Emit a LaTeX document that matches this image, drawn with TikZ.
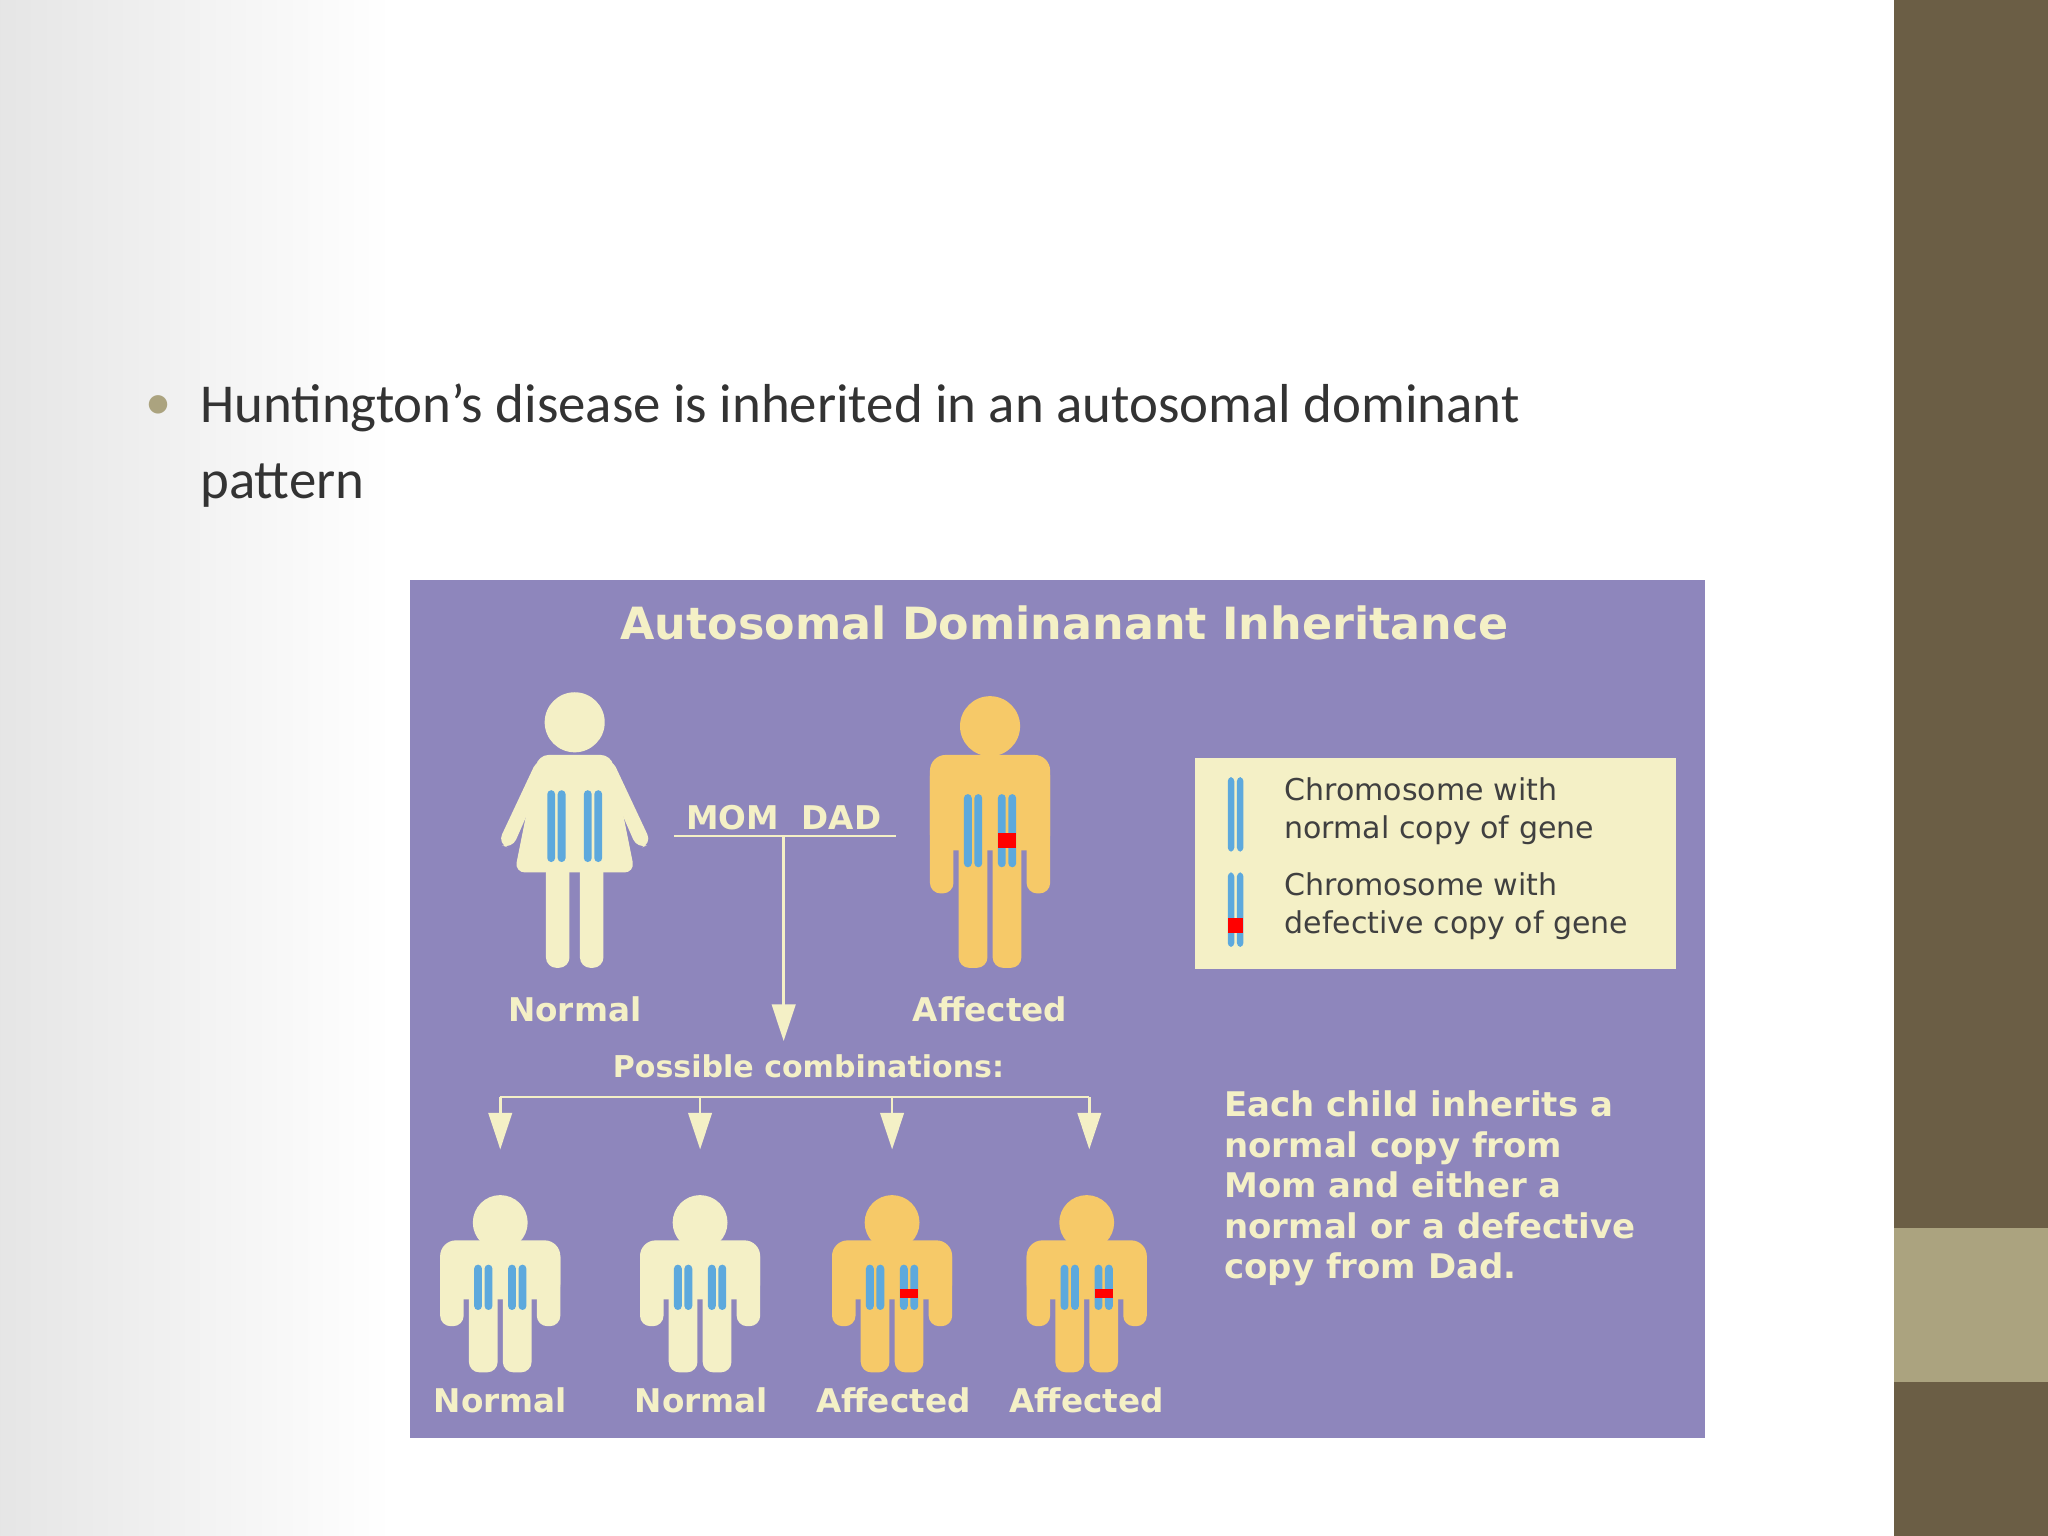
\documentclass[tikz,border=0pt]{standalone}
\usepackage{fontspec}
\setmainfont{Carlito}
\newfontfamily\dv{DejaVu Sans}
\usetikzlibrary{arrows.meta}
\definecolor{panel}{HTML}{8E86BC}
\definecolor{pale}{HTML}{F4F0C6}
\definecolor{gold}{HTML}{F6C968}
\definecolor{chrom}{HTML}{5DA9DD}
\definecolor{olive}{HTML}{6B5E45}
\definecolor{olivel}{HTML}{ABA37F}
\tikzset{
 lbl/.style={text=pale,font=\dv\bfseries\fontsize{12.5}{14}\selectfont,inner sep=0pt},
 leg/.style={text=black!75,font=\dv\fontsize{11.5}{14.5}\selectfont,align=left,inner sep=0pt,anchor=north west},
 conn/.style={draw=pale,line width=1pt},
 arr/.style={conn,-{Triangle[width=9pt,length=14pt]}},
 chr/.style={fill=chrom,rounded corners=1.5pt},
}
% man body: #1 cx, #2 head y, #3 yscale, #4 colour, #5 defect(1/0), #6 head r
\newcommand\manfig[6]{%
 \fill[#4] (#1,#2) circle[radius=#6];
 \begin{scope}[shift={(#1,#2)},yscale=#3]
  \fill[#4,rounded corners=6pt] (-46,22) rectangle (46,95);
  \fill[#4,rounded corners=4pt] (-46,30) rectangle (-28,128);
  \fill[#4,rounded corners=4pt] (28,30) rectangle (46,128);
  \fill[#4,rounded corners=4pt] (-24,80) rectangle (-2,185);
  \fill[#4,rounded corners=4pt] (2,80) rectangle (24,185);
  \fill[chr] (-20,52) rectangle (-14,108); \fill[chr] (-12,52) rectangle (-6,108);
  \fill[chr] (6,52) rectangle (12,108); \fill[chr] (14,52) rectangle (20,108);
  \ifnum#5=1 \fill[red] (6,82) rectangle (20,93);\fi
 \end{scope}}
\begin{document}
\begin{tikzpicture}[x=0.5pt,y=-0.5pt]
\useasboundingbox (0,0) rectangle (1568,1176);
\shade[left color=black!10,right color=white] (0,0) rectangle (300,1176);
\fill[white] (300,0) rectangle (1450,1176);
\fill[olive] (1450,0) rectangle (1568,1176);
\fill[olivel] (1450,940) rectangle (1568,1058);
\node[text=olivel,font=\fontsize{20}{24}\selectfont] (bul) at (121,312) {•};
\node[anchor=west,text=black!80,font=\fontsize{21}{29}\selectfont,align=left,inner sep=0pt] (txt) at (153,341)
 {Huntington's disease is inherited in an autosomal dominant\\pattern};
\fill[panel] (314,444) rectangle (1305,1101);
\node[lbl,font=\dv\bfseries\fontsize{17}{20}\selectfont] (title) at (815,477) {Autosomal Dominanant Inheritance};
% parents
\fill[pale] (440,553) circle[radius=23];
\fill[pale,rounded corners=4pt] (412,578) -- (468,578) -- (486,668) -- (394,668) -- cycle;
\fill[pale,rounded corners=4pt] (412,580) -- (420,586) -- (392,650) -- (381,646) -- cycle;
\fill[pale,rounded corners=4pt] (468,580) -- (460,586) -- (488,650) -- (499,646) -- cycle;
\fill[pale,rounded corners=4pt] (418,660) rectangle (436,741);
\fill[pale,rounded corners=4pt] (444,660) rectangle (462,741);
\fill[chr] (419,605) rectangle (425,660); \fill[chr] (427,605) rectangle (433,660);
\fill[chr] (447,605) rectangle (453,660); \fill[chr] (455,605) rectangle (461,660);
\manfig{758}{556}{1}{gold}{1}{23}
\node[lbl] (mom) at (440,773) {Normal};
\node[lbl] (dad) at (758,773) {Affected};
\node[lbl] (md) at (600,626) {MOM\ \ DAD};
\coordinate (u1) at (516,640); \coordinate (u2) at (686,640);
\draw[conn] (u1) -- (u2);
\coordinate (top) at (600,640); \coordinate (bot) at (600,797);
\draw[arr] (top) -- (bot);
\node[lbl,font=\dv\bfseries\fontsize{11.5}{14}\selectfont] (pc) at (619,816) {Possible combinations:};
\coordinate (h1) at (383,840); \coordinate (h2) at (536,840); \coordinate (h3) at (683,840); \coordinate (h4) at (834,840);
\draw[conn] (h1) -- (h4);
\foreach \c/\n in {383/k1,536/k2,683/k3,834/k4} {\coordinate (\n) at (\c,880); \draw[arr] (\c,840) -- (\n);}
\manfig{383}{936}{0.62}{pale}{0}{21}
\manfig{536}{936}{0.62}{pale}{0}{21}
\manfig{683}{936}{0.62}{gold}{1}{21}
\manfig{832}{936}{0.62}{gold}{1}{21}
\node[lbl] (n1) at (383,1072) {Normal};
\node[lbl] (n2) at (537,1072) {Normal};
\node[lbl] (n3) at (684,1072) {Affected};
\node[lbl] (n4) at (832,1072) {Affected};
% legend
\fill[pale] (915,580) rectangle (1283,742);
\fill[chr] (940,595) rectangle (945,652); \fill[chr] (947,595) rectangle (952,652);
\fill[chr] (940,668) rectangle (945,725); \fill[chr] (947,668) rectangle (952,725);
\fill[red] (940,703) rectangle (952,714);
\node[leg] (l1) at (983,595) {Chromosome with\\normal copy of gene};
\node[leg] (l2) at (983,668) {Chromosome with\\defective copy of gene};
\node[lbl,anchor=north west,align=left,font=\dv\bfseries\fontsize{13}{15.5}\selectfont] (each) at (937,835)
 {Each child inherits a\\normal copy from\\Mom and either a\\normal or a defective\\copy from Dad.};
\end{tikzpicture}
\end{document}
